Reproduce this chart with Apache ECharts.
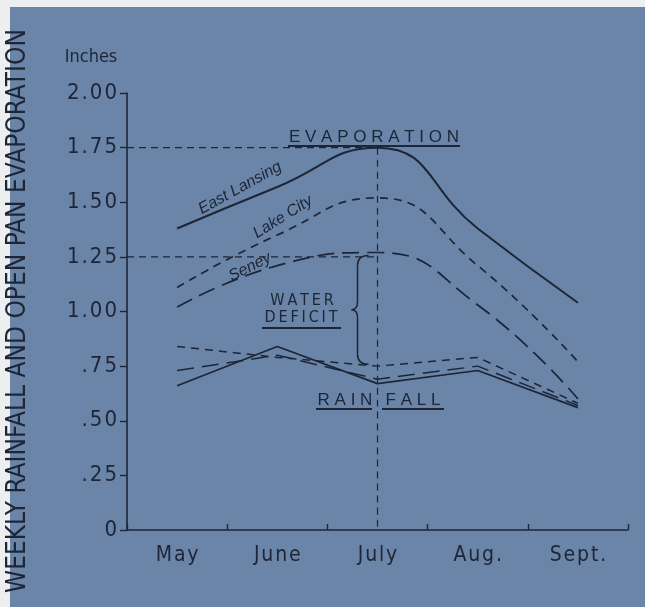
<!DOCTYPE html>
<html>
<head>
<meta charset="utf-8">
<script src="https://cdn.jsdelivr.net/npm/echarts@6/dist/echarts.min.js"></script>
<style>
	html, body { margin: 0; padding: 0; background: #eceef0; }
	#main { width: 645px; height: 607px; }
</style>
</head>
<body>
<div id="main"></div>
<script>
//   months on the x axis
var months = ['May', 'June', 'July', 'Aug.', 'Sept.'];

//   weekly open pan evaporation (inches)
var evapEastLansing = [1.38, 1.57, 1.75, 1.38, 1.04];
var evapLakeCity = [1.11, 1.35, 1.52, 1.21, 0.77];
var evapSeney = [1.02, 1.21, 1.27, 1.03, 0.60];

//   weekly rainfall (inches)
var rainEastLansing = [0.66, 0.84, 0.67, 0.73, 0.56];
var rainLakeCity = [0.84, 0.79, 0.75, 0.79, 0.58];
var rainSeney = [0.73, 0.80, 0.69, 0.75, 0.57];

//   dashed guide levels
var guideLevels = [1.75, 1.25];

var ink = '#1d2537';
var bg = '#6b85a8';
var cond = '"DejaVu Sans Condensed", "DejaVu Sans"';

var spaced = function (s, sp) {
	return String(s).split('').join(sp);
}

var chart = echarts.init(document.getElementById('main'));

//   July sits at the middle of the third month on the hidden value axis
var julyPos = months.indexOf('July') + 0.5;

var guideSeries = guideLevels.map(function (lv) {
	return {
		type: 'line', xAxisIndex: 1, symbol: 'none', silent: true,
		data: [[0, lv], [julyPos, lv]],
		lineStyle: { color: ink, width: 1.2, type: [7, 5] }
	};
});
guideSeries.push({
	type: 'line', xAxisIndex: 1, symbol: 'none', silent: true,
	data: [[julyPos, guideLevels[0]], [julyPos, 0]],
	lineStyle: { color: ink, width: 1.2, type: [7, 5] }
});

var mk = function (data, type, width, smooth) {
	return {
		type: 'line', xAxisIndex: 0, data: data, symbol: 'none', smooth: smooth,
		lineStyle: { color: ink, width: width, type: type }
	};
}

var option = {
	backgroundColor: 'transparent',
	animation: false,
	grid: { left: 127, right: 17, top: 93, bottom: 77 },
	xAxis: [{
		type: 'category',
		data: months,
		boundaryGap: true,
		axisLine: { show: true, lineStyle: { color: ink, width: 1.6 } },
		axisTick: { show: true, inside: true, length: 6, interval: 0, lineStyle: { color: ink, width: 1.4 } },
		axisLabel: {
			margin: 15, color: ink, fontSize: 21, fontFamily: cond,
			formatter: function (v) { return spaced(v, '\u200A'); }
		},
		splitLine: { show: false }
	}, {
		type: 'value', min: 0, max: 5, show: false
	}],
	yAxis: {
		type: 'value', min: 0, max: 2, interval: 0.25,
		axisLine: { show: true, lineStyle: { color: ink, width: 1.6 } },
		axisTick: { show: true, inside: false, length: 7, lineStyle: { color: ink, width: 1.4 } },
		axisLabel: {
			margin: 10, color: ink, fontSize: 22, fontFamily: cond,
			formatter: function (v) {
				var s = v === 0 ? '0' : (v < 1 ? v.toFixed(2).slice(1) : v.toFixed(2));
				return spaced(s, '\u200A');
			}
		},
		splitLine: { show: false }
	},
	series: guideSeries.concat([
		mk(evapEastLansing, 'solid', 2, true),
		mk(evapLakeCity, [8, 6], 1.7, true),
		mk(evapSeney, [17, 8], 1.7, true),
		mk(rainEastLansing, 'solid', 1.7, false),
		mk(rainLakeCity, [8, 6], 1.5, false),
		mk(rainSeney, [17, 8], 1.5, false)
	])
};
chart.setOption(option);

//   annotations
var px = function (x, y) {
	return chart.convertToPixel({ xAxisIndex: 1, yAxisIndex: 0 }, [x, y]);
}
var braceTop = px(julyPos, evapSeney[2]);
var braceBot = px(julyPos, rainLakeCity[2]);
var jx = braceTop[0];
var t = braceTop[1] + 3, b = braceBot[1] - 2, m = (t + b) / 2;
var sx = jx - 20, tx = jx - 9, cx = jx - 26;

var curve = function (x1, y1, qx, qy, x2, y2) {
	return { type: 'bezierCurve', z: 10, shape: { x1: x1, y1: y1, cpx1: qx, cpy1: qy, x2: x2, y2: y2 }, style: { stroke: ink, lineWidth: 1.5, fill: null } };
}
var seg = function (x1, y1, x2, y2, w) {
	return { type: 'line', z: 10, shape: { x1: x1, y1: y1, x2: x2, y2: y2 }, style: { stroke: ink, lineWidth: w || 1.5 } };
}
var txt = function (x, y, s, font, rot, align) {
	return {
		type: 'text', x: x, y: y, rotation: rot || 0, z: 10,
		style: { text: s, font: font, fill: ink, align: align || 'center', verticalAlign: 'middle' }
	};
}
var deg = Math.PI / 180;

chart.setOption({
	graphic: [
		{ type: 'rect', z: -10, shape: { x: 10, y: 7, width: 640, height: 610 }, style: { fill: bg } },
		txt(18, 311, 'WEEKLY RAINFALL AND OPEN PAN EVAPORATION', '26px ' + cond, Math.PI / 2),
		txt(91, 57, 'Inches', '18px ' + cond),
		txt(374, 137, 'E V A P O R A T I O N', '17px "Liberation Sans"'),
		seg(288, 146, 460, 146, 2),
		txt(240, 188, 'East Lansing', 'italic 16px "Liberation Sans"', 29 * deg),
		txt(283, 217, 'Lake City', 'italic 16px "Liberation Sans"', 32 * deg),
		txt(250, 267, 'Seney', 'italic 16px "Liberation Sans"', 27 * deg),
		txt(302, 301, spaced('WATER', '\u2009'), '16px ' + cond),
		txt(301, 318, spaced('DEFICIT', '\u2009'), '16px ' + cond),
		seg(262, 328, 341, 328, 2),
		txt(345, 400, 'R A I N', '17px "Liberation Sans"'),
		txt(413, 400, 'F A L L', '17px "Liberation Sans"'),
		seg(316, 409, 372, 409, 2),
		seg(382, 409, 444, 409, 2),
		//   brace for the water deficit
		curve(tx, t, sx, t, sx, t + 10),
		seg(sx, t + 10, sx, m - 8),
		curve(sx, m - 8, sx, m, cx, m),
		curve(cx, m, sx, m, sx, m + 8),
		seg(sx, m + 8, sx, b - 10),
		curve(sx, b - 10, sx, b, tx, b)
	]
});
</script>
</body>
</html>
